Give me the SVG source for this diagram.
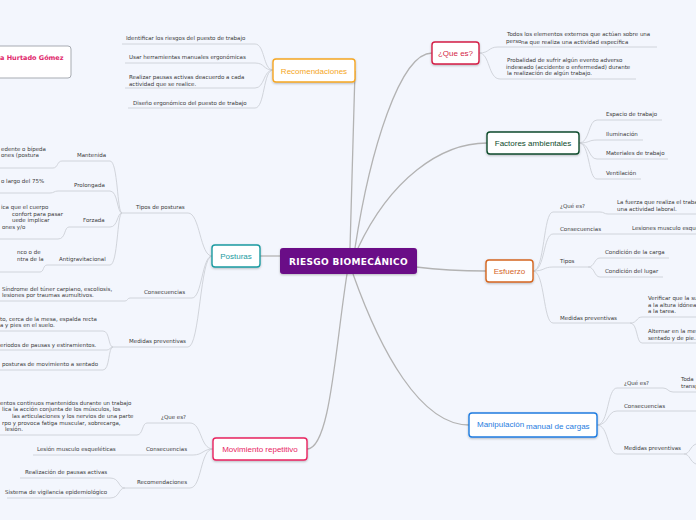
<svg xmlns="http://www.w3.org/2000/svg" width="696" height="520" viewBox="0 0 696 520">
<defs>
<filter id="sh" x="-10%" y="-20%" width="120%" height="160%">
<feDropShadow dx="0" dy="1" stdDeviation="0.8" flood-color="#000" flood-opacity="0.25"/>
</filter>
<style>
.main{fill:none;stroke:#b3b3b3;stroke-width:1.3}
.br{fill:none;stroke:#cdd0d7;stroke-width:0.9}
.t{font-family:"DejaVu Sans",Verdana,sans-serif;font-size:5.5px;fill:#3a3a3a}
.nt{font-family:"Liberation Sans",Arial,sans-serif;font-size:8px;text-anchor:middle}
.box{fill:#fff;stroke-width:1.4;filter:url(#sh)}
</style>
</defs>
<rect width="696" height="520" fill="#f3f6fd"/>

<g id="connectors">
<path class="main" d="M280,256 L260,256"/>
<path class="main" d="M350,248 C352,180 354,110 355,71"/>
<path class="main" d="M355,248 C370,150 400,53 432,53"/>
<path class="main" d="M358,248 C390,180 440,143 487,143"/>
<path class="main" d="M416,267 C440,270 460,271 486,271"/>
<path class="main" d="M353,274 C380,350 420,425 469,425"/>
<path class="main" d="M347,274 C335,350 330,449 307,449"/>

<path class="br" d="M273,70 C263,70 265,44 255,44 L122,44"/>
<path class="br" d="M273,70 C263,70 265,63 255,63 L125,63"/>
<path class="br" d="M273,70 C263,70 265,88 255,88 L125,88"/>
<path class="br" d="M273,70 C263,70 265,108 255,108 L128,108"/>

<path class="br" d="M212,256 C200,256 200,213 188,213 L122,213"/>
<path class="br" d="M212,256 C202,256 202,298 192,298 L130,298"/>
<path class="br" d="M212,256 C200,256 200,347 188,347 L113,347"/>
<path class="br" d="M122,213 C117,213 118,161 110,161 L62,161 C57,161 58,168 53,168 L0,168"/>
<path class="br" d="M122,213 C117,213 118,191 110,191 L58,191 C54,191 54,193 50,193 L0,193"/>
<path class="br" d="M122,213 C117,213 118,227 110,227 L69,227 C64,227 66,239 58,239 L0,239"/>
<path class="br" d="M122,213 C117,213 118,265 110,265 L47,265 C43,265 44,272 40,272 L0,272"/>
<path class="br" d="M130,298 C127,298 128,301 125,301 L0,301"/>
<path class="br" d="M113,347 C108,347 110,331 103,331 L0,331"/>
<path class="br" d="M113,347 C110,347 110,350 107,350 L0,350"/>
<path class="br" d="M113,347 C108,347 110,370 103,370 L0,370"/>

<path class="br" d="M213,449 C200,449 202,423 190,423 L147,423 C142,423 143,435 137,435 L0,435"/>
<path class="br" d="M213,449 C203,449 203,455 193,455 L33,455"/>
<path class="br" d="M213,449 C200,449 202,488 190,488 L125,488"/>
<path class="br" d="M125,488 C118,488 120,478 110,478 L20,478"/>
<path class="br" d="M125,488 C118,488 120,498 110,498 L7,498"/>

<path class="br" d="M479,53 C490,53 488,47 498,47 L657,47"/>
<path class="br" d="M479,53 C490,53 488,79 500,79 L636,79"/>

<path class="br" d="M579,143 C590,143 588,120 597,120 L662,120"/>
<path class="br" d="M579,143 C590,143 588,140 597,140 L643,140"/>
<path class="br" d="M579,143 C590,143 588,159 597,159 L668,159"/>
<path class="br" d="M579,143 C590,143 588,179 597,179 L641,179"/>

<path class="br" d="M533,271 C545,271 543,212 553,212 L600,212 C604,212 604,214 608,214 L696,214"/>
<path class="br" d="M533,271 C545,271 543,234 553,234 L696,234"/>
<path class="br" d="M533,271 C545,271 543,267 553,267 L588,267"/>
<path class="br" d="M588,267 C595,267 594,258 600,258 L669,258"/>
<path class="br" d="M588,267 C595,267 594,277 600,277 L663,277"/>
<path class="br" d="M533,271 C545,271 543,323 553,323 L630,323"/>
<path class="br" d="M630,323 C638,323 636,317 642,317 L696,317"/>
<path class="br" d="M630,323 C638,323 636,343 642,343 L696,343"/>

<path class="br" d="M597,425 C609,425 607,388 617,388 L663,388 C668,388 668,392 673,392 L696,392"/>
<path class="br" d="M597,425 C609,425 607,411 617,411 L696,411"/>
<path class="br" d="M597,425 C609,425 607,454 617,454 L684,454"/>
<path class="br" d="M684,454 C690,454 690,446 696,444"/>
<path class="br" d="M684,454 C690,454 690,462 696,464"/>
</g>

<g id="author">
<rect x="-60" y="46" width="131" height="32" rx="3" fill="#fff" stroke="#a7abb2" stroke-width="1"/>
<text x="0" y="60" font-family="DejaVu Sans,sans-serif" font-size="6.5" font-weight="bold" fill="#e0266b">a Hurtado Gómez</text>
</g>

<g id="center">
<rect x="280" y="248" width="137" height="26" rx="3" fill="#6b0987" filter="url(#sh)"/>
<text x="348.5" y="264.5" font-family="DejaVu Sans,sans-serif" font-size="9" letter-spacing="0.35" font-weight="bold" fill="#fff" text-anchor="middle">RIESGO BIOMECÁNICO</text>
</g>

<g id="recomendaciones">
<rect class="box" x="273" y="59" width="82" height="23" rx="3" stroke="#f5a623"/>
<text class="nt" x="314" y="73.5" fill="#f5a623">Recomendaciones</text>
<text class="t" x="126" y="40">Identificar los riesgos del puesto de trabajo</text>
<text class="t" x="129" y="59">Usar herramientas manuales ergonómicas</text>
<text class="t" x="129" y="79">Realizar pausas activas deacuerdo a cada</text>
<text class="t" x="129" y="85.5">actividad que se realice.</text>
<text class="t" x="133" y="104.5">Diseño ergonómico del puesto de trabajo</text>
</g>

<g id="posturas">
<rect class="box" x="212" y="245" width="48" height="22" rx="3" stroke="#1a9ba1"/>
<text class="nt" x="236" y="258.5" fill="#1a9ba1">Posturas</text>
<text class="t" x="136" y="209">Tipos de posturas</text>
<text class="t" x="77" y="157">Mantenida</text>
<text class="t" x="1" y="150.5">edente o bípeda</text>
<text class="t" x="1" y="157">ones (postura</text>
<text class="t" x="74" y="187">Prolongada</text>
<text class="t" x="1" y="183">o largo del 75%</text>
<text class="t" x="83" y="222">Forzada</text>
<text class="t" x="1" y="209">ica que el cuerpo</text>
<text class="t" x="12" y="215.5">confort para pasar</text>
<text class="t" x="12" y="222">uede implicar</text>
<text class="t" x="2" y="228.5">ones y/o</text>
<text class="t" x="59" y="261">Antigravitacional</text>
<text class="t" x="17" y="254">nco o de</text>
<text class="t" x="17" y="260.5">ntra de la</text>
<text class="t" x="144" y="294">Consecuencias</text>
<text class="t" x="2" y="290.5">Síndrome del túner carpiano, escoliosis,</text>
<text class="t" x="2" y="297">lesiones por traumas aumultivos.</text>
<text class="t" x="129" y="343">Medidas preventivas</text>
<text class="t" x="0" y="320.5">to, cerca de la mesa, espalda recta</text>
<text class="t" x="0" y="327">a y pies en el suelo.</text>
<text class="t" x="0" y="346.5">eriodos de pausas y estiramientos.</text>
<text class="t" x="2" y="366">posturas de movimiento a sentado</text>
</g>

<g id="movimiento">
<rect class="box" x="213" y="438" width="94" height="22" rx="3" stroke="#e8245f"/>
<text class="nt" x="260" y="451.5" fill="#e8245f">Movimiento repetitivo</text>
<text class="t" x="161" y="419">¿Que es?</text>
<text class="t" x="0" y="404.5">entos continuos mantenidos durante un trabajo</text>
<text class="t" x="2" y="411">lica la acción conjunta de los músculos, los</text>
<text class="t" x="12" y="417.5">las articulaciones y los nervios de una parte</text>
<text class="t" x="2" y="424.5">rpo y provoca fatiga muscular, sobrecarga,</text>
<text class="t" x="5" y="431">lesión.</text>
<text class="t" x="146" y="451">Consecuencias</text>
<text class="t" x="37" y="451">Lesión musculo esqueléticas</text>
<text class="t" x="137" y="484">Recomendaciones</text>
<text class="t" x="25" y="474">Realización de pausas activas</text>
<text class="t" x="5" y="494">Sistema de vigilancia epidemiológico</text>
</g>

<g id="que-es">
<rect class="box" x="432" y="42" width="47" height="22" rx="3" stroke="#d41e45"/>
<text class="nt" x="455.5" y="56" fill="#d41e45">¿Que es?</text>
<text class="t" x="507" y="36">Todos los elementos externos que actúan sobre una</text>
<text class="t" x="506" y="42.5">perso</text>
<text class="t" x="521" y="43.5">na que realiza una actividad específica</text>
<text class="t" x="507" y="62">Probalidad de sufrir algún evento adverso</text>
<text class="t" x="506" y="68.5">indes</text>
<text class="t" x="520" y="69">eado (accidente o enfermedad) durante</text>
<text class="t" x="507" y="75">la realización de algún trabajo.</text>
</g>

<g id="factores">
<rect class="box" x="487" y="132" width="92" height="22" rx="3" stroke="#0c4b2c"/>
<text class="nt" x="533" y="146" fill="#0c4b2c">Factores ambientales</text>
<text class="t" x="606" y="116">Espacio de trabajo</text>
<text class="t" x="606" y="136">Iluminación</text>
<text class="t" x="606" y="155">Materiales de trabajo</text>
<text class="t" x="606" y="175">Ventilación</text>
</g>

<g id="esfuerzo">
<rect class="box" x="486" y="260" width="47" height="22" rx="3" stroke="#d5651f"/>
<text class="nt" x="509.5" y="274" fill="#d5651f">Esfuerzo</text>
<text class="t" x="560" y="208">¿Qué es?</text>
<text class="t" x="617" y="204">La fuerza que realiza el traba</text>
<text class="t" x="617" y="211">una actividad laboral.</text>
<text class="t" x="560" y="231">Consecuencias</text>
<text class="t" x="632" y="230">Lesiones musculo esque</text>
<text class="t" x="560" y="263">Tipos</text>
<text class="t" x="605" y="254">Condición de la carga</text>
<text class="t" x="605" y="273">Condición del lugar</text>
<text class="t" x="560" y="320">Medidas preventivas</text>
<text class="t" x="648" y="300">Verificar que la su</text>
<text class="t" x="648" y="306.5">a la altura idónea</text>
<text class="t" x="648" y="313">a la tarea.</text>
<text class="t" x="648" y="333">Alternar en la me</text>
<text class="t" x="648" y="339.5">sentado y de pie.</text>
</g>

<g id="manipulacion">
<rect class="box" x="469" y="413" width="128" height="24" rx="3" stroke="#1f7ce0"/>
<text x="477" y="426.5" font-family="Liberation Sans,Arial,sans-serif" font-size="8" fill="#1f7ce0">Manipulación</text>
<text x="526" y="429" font-family="Liberation Sans,Arial,sans-serif" font-size="8" fill="#1f7ce0">manual de cargas</text>
<text class="t" x="624" y="385">¿Qué es?</text>
<text class="t" x="681" y="381">Toda</text>
<text class="t" x="681" y="388">transp</text>
<text class="t" x="624" y="408">Consecuencias</text>
<text class="t" x="624" y="450">Medidas preventivas</text>
</g>
</svg>
